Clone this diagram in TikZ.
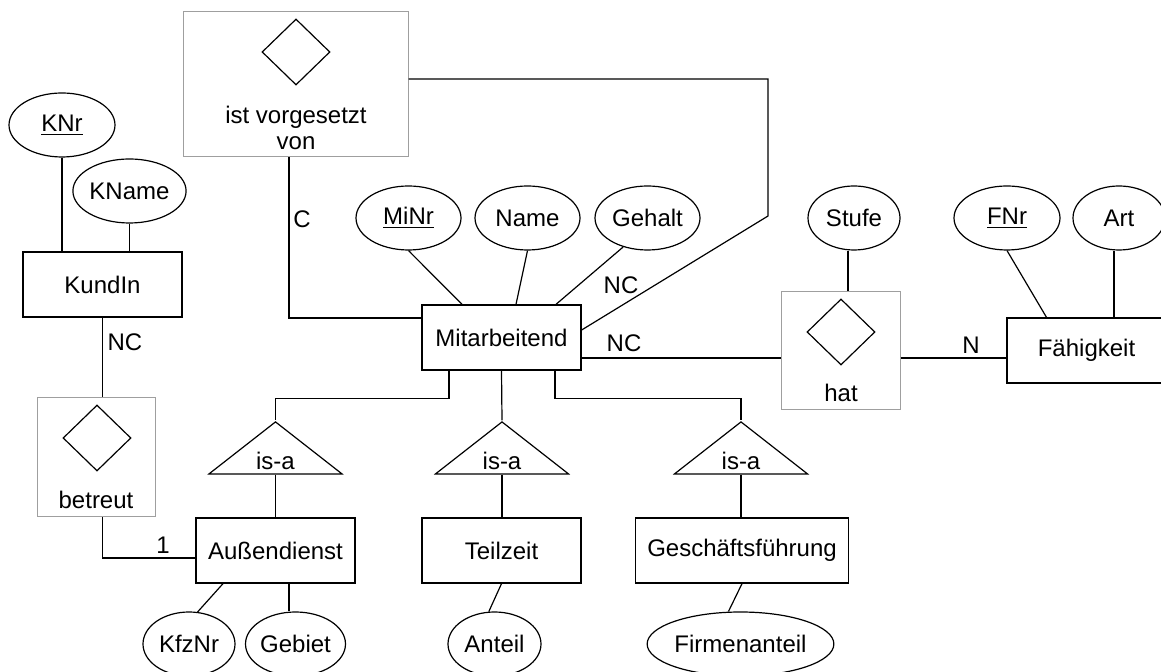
\documentclass[tikz,border=0pt]{standalone}
\usepackage{fontspec}
\setmainfont{Liberation Sans}
\usetikzlibrary{shapes.geometric}

\tikzset{
  entity/.style={draw, rectangle, line width=0.65pt, minimum width=79.5pt, minimum height=32.5pt},
  attr/.style={draw, ellipse, line width=0.6pt, minimum width=53pt, minimum height=32pt, inner sep=0pt},
  relbox/.style={draw=gray!75, line width=0.5pt, rectangle, inner sep=0pt},
  rhomb/.style={draw, diamond, line width=0.6pt, minimum width=34pt, minimum height=33pt, inner sep=0pt},
  isa/.style={draw, isosceles triangle, shape border rotate=90, isosceles triangle stretches,
    minimum width=66.5pt, minimum height=26pt, inner sep=0pt, line width=0.6pt},
  conn/.style={line width=0.6pt},
}

\begin{document}
\begin{tikzpicture}[x=0.5pt, y=-0.5pt, font=\fontsize{12}{13}\selectfont]
\useasboundingbox (0,0) rectangle (1161,672);

% Entitaeten
\node[entity] (kunde) at (102.5,284.5) {KundIn};
\node[entity] (mitarb) at (501.5,337.5) {Mitarbeitend};
\node[entity] (faehig) at (1086.5,350.5) {Fähigkeit};
\node[entity] (aussen) at (275.5,550.5) {Außendienst};
\node[entity] (teilzeit) at (501.5,550.5) {Teilzeit};
\node[entity, minimum width=106.5pt] (gf) at (742,550.5) {Geschäftsführung};

% Attribute
\node[attr] (knr) at (62,125) {\underline{KNr}};
\node[attr, minimum width=52.5pt] (kname) at (129.5,191) {KName};
\node[attr, minimum width=52.5pt] (minr) at (408.5,218) {\underline{MiNr}};
\node[attr, minimum width=52.5pt] (name) at (527.5,218) {Name};
\node[attr, minimum width=52.5pt] (gehalt) at (647.5,218) {Gehalt};
\node[attr, minimum width=46pt] (stufe) at (854,218) {Stufe};
\node[attr] (fnr) at (1007,218) {\underline{FNr}};
\node[attr, minimum width=46pt] (art) at (1119,218) {Art};
\node[attr, minimum width=46pt] (kfznr) at (189,644) {KfzNr};
\node[attr, minimum width=46.5pt] (gebiet) at (295.5,644) {Gebiet};
\node[attr, minimum width=46.5pt] (anteil) at (494.5,644) {Anteil};
\node[attr, minimum width=92.5pt] (firmen) at (740.5,644) {Firmenanteil};

% Beziehungen
\node[relbox, minimum width=112.5pt, minimum height=72.5pt] (vorgbox) at (295.5,84.5) {};
\node[rhomb] (vorgdia) at (296,52) {};
\node[align=center] (vorgtxt) at (296,128) {ist vorgesetzt\\von};
\node[relbox, minimum width=59.5pt, minimum height=59pt] (hatbox) at (840.5,351) {};
\node[rhomb] (hatdia) at (841,332) {};
\node (hattxt) at (841,393) {hat};
\node[relbox, minimum width=59pt, minimum height=59.5pt] (betrbox) at (96,457.5) {};
\node[rhomb] (betrdia) at (97,438) {};
\node (betrtxt) at (96,500) {betreut};

% is-a
\node[isa] (isa1) at (275.5,451) {};
\node[isa] (isa2) at (502,451) {};
\node[isa] (isa3) at (741,451) {};
\node (isa1txt) at (275.5,461) {is-a};
\node (isa2txt) at (502,461) {is-a};
\node (isa3txt) at (741,461) {is-a};

% Verbindungen
\draw[conn] (knr.south) -- (knr.south |- kunde.north);
\draw[conn] (kname.south) -- (kname.south |- kunde.north);
\draw[conn] (kunde.south) -- (kunde.south |- betrbox.north);
\draw[conn] (kunde.south |- betrbox.south) |- ([yshift=-3.75pt]aussen.west);
\draw[conn] ([xshift=-3.25pt]vorgbox.south) |- ([yshift=9.75pt]mitarb.west);
\coordinate (knick) at (768,216);
\draw[conn] ([yshift=2.75pt]vorgbox.east) -| (knick) -- ([yshift=3.75pt]mitarb.east);
\draw[conn] (minr.south) -- ([xshift=-19.75pt]mitarb.north);
\draw[conn] (name.south) -- ([xshift=7.25pt]mitarb.north);
\draw[conn] (gehalt.230) -- ([xshift=27.25pt]mitarb.north);
\draw[conn] ([yshift=-10.25pt]mitarb.east) -- ([yshift=-10.25pt]mitarb.east -| hatbox.west);
\draw[conn] ([yshift=-3.5pt]hatbox.east) -- ([yshift=-3.5pt]hatbox.east -| faehig.west);
\draw[conn] ([xshift=-3pt]stufe.south) -- ([xshift=-3pt]stufe.south |- hatbox.north);
\draw[conn] (fnr.south) -- ([xshift=-20pt]faehig.north);
\draw[conn] ([xshift=-2.5pt]art.south) -- ([xshift=-2.5pt]art.south |- faehig.north);
\draw[conn] ([xshift=-26.25pt]mitarb.south) -- ++(0,-14pt) -| (isa1.north);
\draw[conn] (mitarb.south) -- (isa2.north);
\draw[conn] ([xshift=26.75pt]mitarb.south) -- ++(0,-14pt) -| (isa3.north);
\draw[conn] (isa1.south) -- (isa1.south |- aussen.north);
\draw[conn] (isa2.south) -- (isa2.south |- teilzeit.north);
\draw[conn] (isa3.south) -- (isa3.south |- gf.north);
\draw[conn] ([xshift=-26.25pt]aussen.south) -- (kfznr.75);
\draw[conn] ([xshift=-3.25pt]gebiet.north |- aussen.south) -- ([xshift=-3.25pt]gebiet.north);
\draw[conn] (teilzeit.south) -- (anteil.100);
\draw[conn] (gf.south) -- ([xshift=-6pt]firmen.north);

% Kardinalitaeten
\node (nc1) at (125,342) {NC};
\node (eins) at (163,545) {1};
\node (c1) at (302,219) {C};
\node (nc2) at (621,285) {NC};
\node (nc3) at (624,343) {NC};
\node (n1) at (971,345) {N};
\end{tikzpicture}
\end{document}
